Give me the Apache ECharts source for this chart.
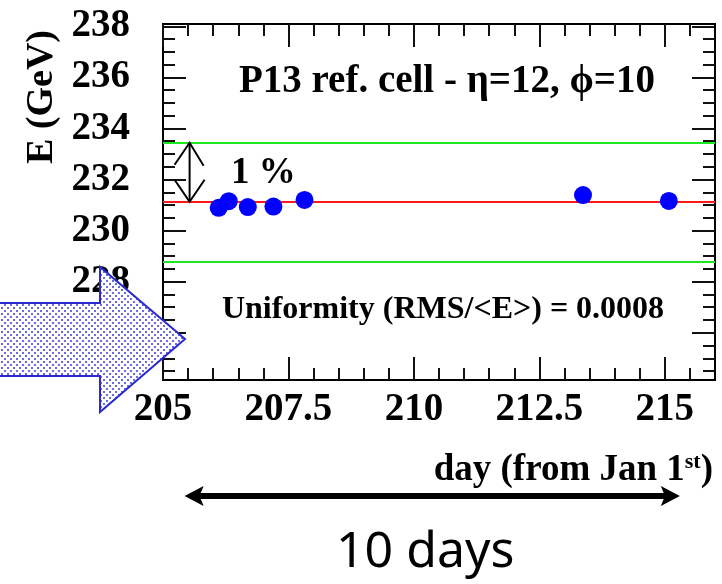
<!DOCTYPE html>
<html><head><meta charset="utf-8">
<script src="https://cdn.jsdelivr.net/npm/echarts@6/dist/echarts.min.js"></script>
<style>html,body{margin:0;padding:0;background:#fff}#c{width:722px;height:584px}</style>
</head><body><div id="c"></div>
<script>
// ---- data ----
const days     = [206.11, 206.31, 206.69, 207.20, 207.82, 213.37, 215.08];
const energies = [230.89, 231.15, 230.92, 230.94, 231.20, 231.39, 231.16];
const refLevel  = [231.13];            // mean (red)
const bandLevels = [233.44, 228.78];   // +-1% (green)
const xMajorTicks = [205, 207.5, 210, 212.5, 215];
const xMinorTicks = [205.5, 206, 206.5, 207, 208, 208.5, 209, 209.5, 210.5, 211, 211.5, 212, 213, 213.5, 214, 214.5, 215.5];
const yMajorTicks = [226, 228, 230, 232, 234, 236, 238];
const yMinorTicks = [224.5, 225, 225.5, 226.5, 227, 227.5, 228.5, 229, 229.5, 230.5, 231, 231.5, 232.5, 233, 233.5, 234.5, 235, 235.5, 236.5, 237, 237.5];
const xRange = [205, 216];
const yRange = [224.15, 238.09];
const titleText = 'P13 ref. cell - η=12, ϕ=10';
const uniformityText = 'Uniformity (RMS/<E>) = 0.0008';
const yName = 'E (GeV)';
const spanDays = [205.43, 215.3];
const spanLabel = '10 days';

const serif = "'Liberation Serif','Times New Roman',serif";
const chart = echarts.init(document.getElementById('c'), null, {renderer: 'canvas'});

function xAx(pos, vals, len, labels) {
  return {
    type: 'value', min: xRange[0], max: xRange[1], position: pos,
    axisLine: {show: true, onZero: false, lineStyle: {color: '#000', width: 2}},
    axisTick: {show: true, inside: true, length: len, customValues: vals, lineStyle: {color: '#111', width: 2}},
    axisLabel: labels ? {show: true, customValues: vals, fontFamily: serif, fontWeight: 'bold', fontSize: 39, color: '#000', margin: 10} : {show: false},
    splitLine: {show: false}
  };
}
function yAx(pos, vals, len, labels) {
  return {
    type: 'value', min: yRange[0], max: yRange[1], position: pos,
    axisLine: {show: true, onZero: false, lineStyle: {color: '#000', width: 2}},
    axisTick: {show: true, inside: true, length: len, customValues: vals, lineStyle: {color: '#111', width: 2}},
    axisLabel: labels ? {show: true, customValues: vals, fontFamily: serif, fontWeight: 'bold', fontSize: 39, color: '#000', margin: 33} : {show: false},
    splitLine: {show: false}
  };
}

chart.setOption({
  animation: false,
  backgroundColor: '#fff',
  grid: {left: 163, right: 7, top: 24, bottom: 204, containLabel: false},
  xAxis: [
    xAx('bottom', xMajorTicks, 23, true),
    xAx('bottom', xMinorTicks, 12, false),
    xAx('top', xMajorTicks, 23, false),
    xAx('top', xMinorTicks, 12, false)
  ],
  yAxis: [
    yAx('left', yMajorTicks, 23, true),
    yAx('left', yMinorTicks, 12, false),
    yAx('right', yMajorTicks, 23, false),
    yAx('right', yMinorTicks, 12, false)
  ],
  series: [{
    type: 'scatter', xAxisIndex: 0, yAxisIndex: 0,
    data: days.map((d, i) => [d, energies[i]]),
    symbol: 'circle', symbolSize: 18,
    itemStyle: {color: '#0000ff', opacity: 1}, z: 5,
    markLine: {
      silent: true, symbol: 'none', label: {show: false}, z: 3,
      data: [
        {yAxis: refLevel[0], lineStyle: {color: '#ff1a1a', width: 2, type: 'solid', opacity: 1}},
        {yAxis: bandLevels[0], lineStyle: {color: '#1ee81e', width: 2, type: 'solid', opacity: 1}},
        {yAxis: bandLevels[1], lineStyle: {color: '#1ee81e', width: 2, type: 'solid', opacity: 1}}
      ]
    }
  }]
});

// dotted pattern for the block arrow
const pc = document.createElement('canvas');
pc.width = 6; pc.height = 6;
const g = pc.getContext('2d');
g.fillStyle = '#ffffff'; g.fillRect(0, 0, 6, 6);
g.fillStyle = '#6b6be6';
g.fillRect(1, 1, 2, 2);
g.fillRect(4, 4, 2, 2);

const P = (x, y) => chart.convertToPixel({xAxisIndex: 0, yAxisIndex: 0}, [x, y]);
const aTop = P(205.53, bandLevels[0]);
const aBot = P(205.53, refLevel[0]);
const ax = aTop[0];
const sx1 = P(spanDays[0], 230)[0];
const sx2 = P(spanDays[1], 230)[0];
const sy = 496;
const midX = (P(205, 230)[0] + P(216, 230)[0]) / 2;

chart.setOption({
  graphic: [
    {type: 'text', x: midX + 8, y: 82, z: 10, style: {text: titleText, font: 'bold 39px ' + serif, fill: '#000', align: 'center', verticalAlign: 'middle'}},
    {type: 'text', x: midX + 4, y: 310, z: 10, style: {text: uniformityText, font: 'bold 32px ' + serif, fill: '#000', align: 'center', verticalAlign: 'middle'}},
    {type: 'text', x: 231, y: 173, z: 10, style: {text: '1 %', font: 'bold 37px ' + serif, fill: '#000', align: 'left', verticalAlign: 'middle'}},
    // vertical double arrow (1 %)
    {type: 'line', z: 10, shape: {x1: ax, y1: aTop[1], x2: ax, y2: aBot[1]}, style: {stroke: '#000', lineWidth: 2}},
    {type: 'polyline', z: 10, shape: {points: [[ax - 15, aTop[1] + 22], [ax, aTop[1]], [ax + 14, aTop[1] + 23]]}, style: {stroke: '#000', lineWidth: 2, fill: null}},
    {type: 'polyline', z: 10, shape: {points: [[ax - 15, aBot[1] - 22], [ax, aBot[1]], [ax + 15, aBot[1] - 22]]}, style: {stroke: '#000', lineWidth: 2, fill: null}},
    // axis names
    {type: 'text', x: 42, y: 97, rotation: Math.PI / 2, z: 10, style: {text: yName, font: 'bold 38px ' + serif, fill: '#000', align: 'center', verticalAlign: 'middle'}},
    {type: 'text', x: 713, y: 470, z: 10, style: {
      text: '{a|day (from Jan 1}{b|st}{a|)}', align: 'right', verticalAlign: 'middle',
      rich: {a: {font: 'bold 37px ' + serif, fill: '#000', verticalAlign: 'bottom'}, b: {font: 'bold 22px ' + serif, fill: '#000', verticalAlign: 'top', padding: [0, 0, 14, 0]}}
    }},
    // block arrow
    {type: 'polygon', z: 20, shape: {points: [[-4, 303], [100, 303], [100, 267], [185, 339], [100, 412], [100, 376], [-4, 376]]},
      style: {fill: {image: pc, repeat: 'repeat'}, stroke: '#2a2ad0', lineWidth: 2}},
    // span arrow below axis
    {type: 'line', z: 10, shape: {x1: sx1 + 12, y1: sy, x2: sx2 - 12, y2: sy}, style: {stroke: '#000', lineWidth: 6}},
    {type: 'polygon', z: 10, shape: {points: [[sx1, sy], [sx1 + 19, sy - 10], [sx1 + 15, sy], [sx1 + 19, sy + 10]]}, style: {fill: '#000'}},
    {type: 'polygon', z: 10, shape: {points: [[sx2, sy], [sx2 - 19, sy - 10], [sx2 - 15, sy], [sx2 - 19, sy + 10]]}, style: {fill: '#000'}},
    {type: 'text', x: (sx1 + sx2) / 2 - 7, y: 553, z: 10, style: {text: spanLabel, font: '50px "Noto Sans"', fill: '#000', align: 'center', verticalAlign: 'middle'}}
  ]
});
</script></body></html>
